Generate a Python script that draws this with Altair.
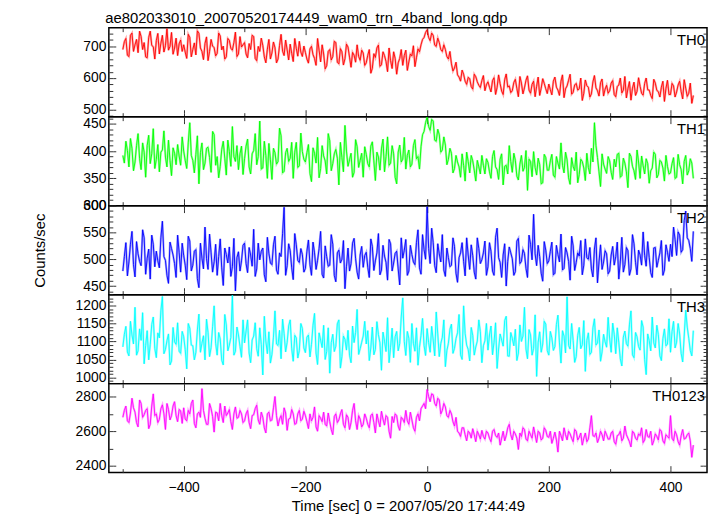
import altair as alt
import pandas as pd

# ---------------- data ----------------
# Each channel is given as two lists: "a" bins start at T_START, "b" bins are
# the bins half a step later; they are merged in time order for plotting.
T_START = -500      # first time bin [sec]
T_STEP = 5          # spacing inside one list [sec]

th0_a = [
    690, 725, 668, 742, 705, 680, 731, 712, 664, 748, 699, 718, 676, 735, 702, 688, 744, 695, 671, 720,
    705, 662, 728, 690, 673, 741, 684, 709, 655, 722, 696, 678, 733, 701, 667, 719, 688, 745, 676, 698,
    712, 664, 690, 731, 655, 684, 703, 648, 722, 679, 696, 660, 738, 671, 689, 707, 652, 694, 716, 668,
    681, 647, 700, 662, 725, 651, 676, 639, 690, 668, 712, 645, 683, 661, 698, 634, 672, 705, 656, 679,
    648, 690, 631, 665, 704, 642, 671, 620, 655, 683, 612, 662, 640, 688, 651, 670, 636, 692, 705, 728,
    752, 718, 735, 700, 712, 684, 690, 660, 645, 632, 610, 590, 612, 580, 598, 565, 604, 577, 592, 560,
    588, 556, 601, 570, 582, 548, 613, 575, 560, 596, 541, 584, 569, 607, 552, 590, 574, 545, 598, 566,
    581, 547, 603, 562, 590, 538, 575, 612, 555, 583, 566, 529, 594, 571, 550, 608, 560, 585, 543, 577,
    560, 592, 541, 578, 553, 605, 566, 530, 587, 558, 574, 546, 600, 562, 535, 584, 557, 571, 526, 593,
    548, 575, 556, 590, 534, 568, 552, 520,
]
th0_b = [
    715, 672, 735, 684, 722, 748, 690, 667, 728, 703, 660, 741, 710, 682, 756, 700, 675, 726, 708, 684,
    682, 738, 667, 711, 749, 695, 658, 730, 684, 701, 670, 742, 689, 660, 725, 694, 712, 668, 731, 705,
    676, 709, 735, 662, 700, 726, 667, 691, 660, 714, 648, 703, 685, 720, 657, 678, 725, 669, 682, 701,
    660, 692, 674, 640, 688, 705, 629, 684, 657, 716, 650, 693, 641, 707, 666, 681, 650, 668, 688, 640,
    672, 615, 677, 695, 637, 683, 652, 695, 630, 662, 648, 690, 671, 624, 676, 702, 664, 683, 722, 744,
    728, 742, 704, 726, 690, 705, 668, 684, 622, 650, 603, 625, 590, 602, 573, 612, 588, 570, 608, 579,
    571, 592, 548, 610, 559, 595, 572, 554, 586, 567, 605, 550, 593, 562, 580, 541, 603, 568, 583, 551,
    563, 590, 571, 545, 610, 566, 593, 549, 578, 562, 600, 552, 576, 540, 588, 569, 543, 597, 565, 552,
    584, 548, 573, 600, 562, 537, 589, 568, 545, 601, 552, 583, 563, 545, 596, 561, 540, 590, 567, 548,
    583, 540, 578, 557, 595, 542, 584, 545,
]
th1_a = [
    392, 418, 371, 405, 380, 432, 366, 398, 410, 377, 441, 385, 362, 402, 389, 420, 355, 396, 412, 374,
    400, 368, 452, 383, 394, 340, 415, 378, 407, 361, 430, 390, 372, 418, 356, 399, 445, 381, 366, 409,
    386, 422, 358, 401, 375, 455, 369, 392, 414, 348, 397, 381, 428, 363, 405, 387, 350, 416, 373, 399,
    380, 412, 344, 396, 425, 368, 391, 358, 419, 377, 403, 338, 388, 447, 372, 396, 361, 408, 383, 352,
    394, 371, 417, 346, 389, 404, 362, 426, 378, 395, 340, 411, 385, 367, 402, 376, 421, 390, 408, 436,
    462, 438, 455, 418, 430, 402, 411, 385, 396, 368, 380, 352, 374, 398, 360, 382, 345, 371, 392, 358,
    379, 350, 401, 366, 385, 338, 374, 410, 361, 383, 347, 392, 370, 328, 381, 399, 356, 375, 342, 388,
    365, 394, 352, 378, 415, 360, 384, 339, 372, 398, 357, 381, 346, 370, 405, 452, 388, 335, 376, 359,
    382, 348, 371, 396, 355, 378, 333, 390, 364, 402, 350, 373, 386, 341, 369, 394, 357, 380, 345, 372,
    360, 388, 352, 375, 340, 392, 364, 378,
]
th1_b = [
    378, 401, 423, 364, 410, 386, 415, 352, 429, 395, 368, 412, 398, 437, 371, 383, 406, 375, 391, 426,
    383, 415, 392, 360, 428, 397, 366, 405, 388, 436, 374, 351, 403, 387, 420, 372, 390, 410, 395, 357,
    409, 371, 395, 432, 390, 367, 418, 350, 384, 405, 376, 442, 360, 397, 381, 416, 398, 370, 433, 385,
    397, 359, 406, 378, 351, 410, 382, 432, 364, 395, 387, 416, 362, 400, 384, 352, 421, 370, 396, 408,
    377, 409, 382, 398, 365, 422, 390, 374, 410, 352, 398, 380, 425, 392, 371, 410, 386, 367, 430, 452,
    445, 458, 420, 440, 398, 426, 375, 405, 360, 392, 371, 395, 345, 381, 392, 365, 383, 358, 374, 386,
    362, 390, 371, 348, 395, 372, 358, 381, 396, 354, 376, 363, 401, 385, 353, 370, 387, 340, 394, 365,
    382, 356, 390, 367, 374, 398, 351, 388, 364, 342, 385, 369, 396, 358, 380, 410, 362, 395, 367, 390,
    361, 385, 394, 352, 387, 362, 396, 372, 348, 380, 391, 358, 377, 364, 398, 351, 383, 369, 392, 358,
    377, 350, 394, 366, 381, 356, 386, 350,
]
th2_a = [
    478, 531, 495, 552, 467, 510, 488, 540, 502, 463, 528, 515, 484, 571, 498, 455, 520, 492, 545, 476,
    507, 462, 534, 489, 518, 447, 502, 560, 481, 512, 495, 470, 538, 451, 509, 523, 486, 441, 514, 497,
    530, 475, 508, 556, 482, 499, 521, 458, 511, 490, 543, 472, 505, 597, 488, 516, 462, 527, 494, 509,
    483, 536, 470, 512, 498, 552, 465, 505, 489, 528, 458, 517, 500, 445, 521, 492, 539, 476, 508, 485,
    513, 466, 524, 497, 548, 480, 506, 461, 529, 493, 515, 452, 502, 537, 478, 509, 490, 555, 472, 518,
    598, 492, 531, 475, 510, 546, 468, 503, 489, 524, 457, 512, 496, 540, 481, 507, 463, 520, 499, 534,
    486, 515, 470, 558, 494, 508, 450, 523, 501, 477, 539, 496, 511, 466, 528, 584, 488, 505, 459, 517,
    497, 532, 474, 509, 547, 483, 512, 461, 525, 494, 506, 471, 538, 500, 482, 519, 456, 527, 495, 510,
    478, 524, 505, 463, 541, 490, 516, 482, 529, 471, 508, 551, 487, 503, 466, 522, 498, 535, 480, 513,
    528, 560, 507, 545, 518, 590, 535, 496,
]
th2_b = [
    505, 469, 528, 490, 533, 496, 555, 472, 519, 545, 486, 497, 540, 505, 470, 532, 508, 466, 513, 530,
    489, 543, 478, 515, 464, 530, 482, 501, 547, 476, 528, 505, 484, 521, 493, 468, 539, 503, 478, 526,
    492, 522, 487, 468, 530, 515, 471, 541, 493, 527, 480, 512, 548, 470, 529, 484, 548, 498, 520, 476,
    515, 490, 532, 481, 520, 472, 525, 487, 546, 470, 512, 493, 535, 486, 478, 530, 501, 463, 524, 507,
    485, 538, 479, 512, 471, 526, 494, 537, 478, 511, 482, 540, 517, 470, 526, 495, 531, 484, 546, 500,
    520, 558, 488, 529, 495, 480, 521, 486, 540, 474, 503, 531, 469, 508, 527, 476, 540, 492, 512, 470,
    531, 478, 541, 503, 466, 529, 496, 512, 470, 534, 492, 518, 483, 545, 499, 510, 526, 474, 533, 492,
    515, 471, 526, 495, 480, 522, 496, 543, 479, 512, 535, 489, 503, 522, 467, 540, 495, 481, 516, 473,
    508, 489, 532, 495, 476, 522, 470, 546, 494, 517, 489, 507, 533, 475, 521, 485, 512, 470, 527, 496,
    505, 537, 551, 513, 572, 540, 520, 552,
]
th3_a = [
    1085, 1142, 1060, 1118, 1195, 1074, 1103, 1038, 1130, 1092, 1168, 1055, 1110, 1225, 1078, 1121, 1046, 1099, 1152, 1067,
    1113, 1024, 1137, 1088, 1070, 1176, 1095, 1049, 1125, 1083, 1199, 1062, 1107, 1035, 1146, 1090, 1228, 1073, 1118, 1056,
    1096, 1160, 1041, 1115, 1080, 1138, 1007, 1101, 1127, 1064, 1185, 1089, 1052, 1122, 1098, 1160, 1045, 1110, 1075, 1136,
    1069, 1118, 1092, 1178, 1036, 1104, 1145, 1072, 1012, 1120, 1087, 1160, 1058, 1106, 1131, 1041, 1097, 1189, 1080, 1115,
    1093, 1047, 1140, 1078, 1119, 1020, 1101, 1166, 1084, 1055, 1128, 1095, 1221, 1061, 1109, 1150, 1073, 1034, 1117, 1089,
    1136, 1070, 1104, 1182, 1058, 1112, 1030, 1095, 1148, 1081, 1124, 1063, 1199, 1090, 1046, 1117, 1085, 1160, 1041, 1102,
    1076, 1143, 1098, 1025, 1121, 1087, 1170, 1059, 1109, 1134, 1068, 1100, 1195, 1052, 1118, 1081, 1003, 1127, 1093, 1148,
    1062, 1110, 1086, 1173, 1040, 1115, 1224, 1079, 1103, 1058, 1139, 1091, 1017, 1124, 1070, 1163, 1096, 1045, 1120, 1084,
    1107, 1151, 1066, 1098, 1032, 1129, 1087, 1185, 1055, 1113, 1076, 1140, 1008, 1102, 1168, 1082, 1119, 1047, 1135, 1093,
    1070, 1156, 1098, 1121, 1043, 1187, 1109, 1060,
]
th3_b = [
    1120, 1071, 1156, 1093, 1062, 1135, 1180, 1089, 1049, 1147, 1081, 1124, 1185, 1066, 1102, 1035, 1139, 1092, 1073, 1128,
    1078, 1150, 1090, 1049, 1132, 1070, 1116, 1162, 1058, 1141, 1095, 1125, 1048, 1175, 1074, 1111, 1062, 1140, 1086, 1160,
    1129, 1068, 1104, 1152, 1059, 1091, 1170, 1066, 1040, 1112, 1093, 1131, 1162, 1071, 1143, 1080, 1117, 1054, 1150, 1082,
    1112, 1057, 1145, 1068, 1124, 1083, 1050, 1138, 1097, 1072, 1149, 1026, 1115, 1076, 1062, 1143, 1125, 1064, 1098, 1156,
    1130, 1082, 1063, 1155, 1096, 1126, 1072, 1041, 1137, 1113, 1074, 1168, 1100, 1128, 1042, 1095, 1138, 1084, 1164, 1061,
    1097, 1142, 1060, 1121, 1094, 1160, 1075, 1134, 1067, 1108, 1175, 1050, 1122, 1078, 1139, 1062, 1101, 1127, 1088, 1150,
    1118, 1063, 1152, 1079, 1104, 1158, 1060, 1125, 1088, 1047, 1146, 1115, 1079, 1133, 1062, 1174, 1098, 1070, 1156, 1075,
    1128, 1075, 1147, 1096, 1130, 1068, 1089, 1150, 1042, 1117, 1080, 1158, 1103, 1064, 1138, 1090, 1132, 1071, 1099, 1167,
    1070, 1120, 1138, 1052, 1112, 1094, 1146, 1063, 1125, 1086, 1158, 1050, 1121, 1074, 1096, 1145, 1060, 1108, 1088, 1163,
    1128, 1082, 1150, 1067, 1115, 1140, 1075, 1130,
]
th0123_a = [
    2680, 2745, 2650, 2790, 2710, 2625, 2760, 2695, 2730, 2640, 2815, 2700, 2668, 2752, 2610, 2725, 2690, 2770, 2655, 2718,
    2735, 2660, 2700, 2780, 2620, 2710, 2845, 2675, 2640, 2730, 2595, 2705, 2760, 2650, 2690, 2725, 2610, 2740, 2680, 2700,
    2660, 2720, 2615, 2695, 2750, 2640, 2680, 2590, 2710, 2665, 2800, 2630, 2690, 2735, 2605, 2675, 2700, 2645, 2720, 2670,
    2690, 2615, 2660, 2740, 2600, 2675, 2710, 2630, 2655, 2580, 2700, 2665, 2725, 2620, 2680, 2650, 2760, 2610, 2670, 2640,
    2675, 2620, 2700, 2590, 2660, 2715, 2635, 2680, 2560, 2650, 2690, 2605, 2670, 2720, 2640, 2665, 2600, 2700, 2730, 2760,
    2840, 2770, 2810, 2745, 2780, 2720, 2740, 2680, 2700, 2630, 2600, 2570, 2620, 2545, 2590, 2615, 2540, 2580, 2605, 2555,
    2590, 2540, 2610, 2565, 2520, 2600, 2575, 2640, 2550, 2585, 2495, 2570, 2610, 2545, 2580, 2625, 2535, 2590, 2560, 2605,
    2565, 2530, 2595, 2480, 2575, 2620, 2550, 2585, 2540, 2600, 2565, 2520, 2590, 2555, 2690, 2570, 2535, 2600, 2545, 2580,
    2555, 2600, 2525, 2580, 2545, 2630, 2560, 2510, 2590, 2550, 2575, 2535, 2610, 2565, 2520, 2585, 2550, 2600, 2530, 2570,
    2690, 2545, 2580, 2520, 2610, 2560, 2590, 2450,
]
th0123_b = [
    2720, 2660, 2705, 2735, 2650, 2780, 2680, 2720, 2615, 2745, 2690, 2650, 2730, 2700, 2760, 2665, 2745, 2690, 2725, 2645,
    2670, 2720, 2760, 2645, 2700, 2680, 2720, 2640, 2760, 2685, 2710, 2660, 2690, 2745, 2705, 2655, 2700, 2675, 2720, 2650,
    2700, 2650, 2690, 2730, 2665, 2710, 2620, 2700, 2660, 2735, 2690, 2670, 2640, 2705, 2670, 2725, 2640, 2700, 2660, 2715,
    2655, 2700, 2680, 2625, 2690, 2655, 2640, 2705, 2610, 2685, 2650, 2700, 2640, 2695, 2610, 2720, 2660, 2690, 2625, 2700,
    2640, 2690, 2650, 2700, 2625, 2670, 2690, 2600, 2685, 2700, 2630, 2680, 2650, 2660, 2710, 2620, 2680, 2660, 2745, 2730,
    2800, 2815, 2760, 2790, 2700, 2760, 2690, 2720, 2655, 2680, 2590, 2620, 2580, 2600, 2560, 2580, 2600, 2555, 2570, 2600,
    2560, 2600, 2575, 2590, 2560, 2545, 2620, 2580, 2600, 2560, 2590, 2620, 2555, 2600, 2560, 2580, 2600, 2550, 2620, 2570,
    2600, 2560, 2550, 2600, 2545, 2580, 2600, 2560, 2610, 2550, 2590, 2560, 2540, 2620, 2575, 2590, 2560, 2580, 2600, 2555,
    2590, 2540, 2575, 2600, 2560, 2580, 2540, 2600, 2560, 2585, 2620, 2550, 2570, 2600, 2545, 2570, 2610, 2545, 2580, 2560,
    2560, 2600, 2540, 2575, 2555, 2580, 2545, 2520,
]

names = ["TH0", "TH1", "TH2", "TH3", "TH0123"]
colors = ["#ff0000", "#00ff00", "#0000ff", "#00ffff", "#ff00ff"]
series_a = [th0_a, th1_a, th2_a, th3_a, th0123_a]
series_b = [th0_b, th1_b, th2_b, th3_b, th0123_b]
y_domains = [[478, 759], [300, 463], [434, 600], [983, 1230], [2362, 2874]]
y_tick_step = [20, 10, 10, 10, 100]
y_label_step = [100, 50, 50, 50, 200]
x_domain = [-523, 460]
x_ticks = [-500, -400, -300, -200, -100, 0, 100, 200, 300, 400]

title_text = "ae802033010_20070520174449_wam0_trn_4band_long.qdp"
x_title = "Time [sec] 0 = 2007/05/20 17:44:49"
y_title = "Counts/sec"

# ---------------- chart ----------------
FONT = "Liberation Sans"
W, H = 605, 90
TK = 7
TICK_COLOR = "#333333"


def dash_cond(step):
    return {"condition": {"test": f"datum.value % {step} === 0", "value": [TK, 0]},
            "value": [4, 3]}


def panel(idx):
    name = names[idx]
    color = colors[idx]
    lo, hi = y_domains[idx]
    st = y_tick_step[idx]
    lab = y_label_step[idx]
    yticks = [v for v in range((lo // st) * st, hi + 1, st) if lo <= v <= hi]
    a, b = series_a[idx], series_b[idx]
    rows = [(T_START + T_STEP * k, v) for k, v in enumerate(a)]
    rows += [(T_START + T_STEP * k + T_STEP / 2, v) for k, v in enumerate(b)]
    df = pd.DataFrame(rows, columns=["t", "v"]).sort_values("t")
    xs = alt.Scale(domain=x_domain, nice=False, zero=False)
    ys = alt.Scale(domain=[lo, hi], nice=False, zero=False)
    last = idx == len(names) - 1

    common = dict(tickSize=TK, offset=-TK, tickColor=TICK_COLOR, tickWidth=1,
                  domain=False, grid=False, tickDashOffset=4,
                  labelFont=FONT, labelFontSize=14, labelColor="black",
                  titleFont=FONT, titleFontSize=15, titleFontWeight="normal",
                  titleColor="black", labelOverlap=False, labelBound=False)

    bottom = alt.Axis(orient="bottom", values=x_ticks, labels=last,
                      labelExpr="datum.value % 200 === 0 ? datum.label : ''",
                      tickDash=dash_cond(200), labelPadding=8,
                      title=x_title if last else None, titlePadding=4, **common)
    top = alt.Axis(orient="top", values=x_ticks, labels=False, tickDash=dash_cond(200),
                   title=None, **common)
    left_kwargs = dict(orient="left", values=yticks, format="d",
                       labelExpr=f"datum.value % {lab} === 0 ? datum.label : ''",
                       tickDash=dash_cond(lab), labelPadding=3)
    if idx == 2:
        left = alt.Axis(title=y_title, titleX=-69, titleY=H / 2, **left_kwargs, **common)
    else:
        left = alt.Axis(title=None, **left_kwargs, **common)
    right = alt.Axis(orient="right", values=yticks, labels=False, tickDash=dash_cond(lab),
                     title=None, **common)

    env = alt.Chart(df).mark_line(color=color, strokeWidth=2.2, opacity=0.35, clip=True).encode(
        x=alt.X("t:Q", scale=xs, axis=top),
        y=alt.Y("v:Q", scale=ys, axis=right),
    )
    line = alt.Chart(df).mark_line(color=color, strokeWidth=0.9, clip=True).encode(
        x=alt.X("t:Q", scale=xs, axis=bottom),
        y=alt.Y("v:Q", scale=ys, axis=left),
    )
    label = alt.Chart(pd.DataFrame({"name": [name]})).mark_text(
        align="right", baseline="middle", font=FONT, fontSize=15, color="black"
    ).encode(x=alt.value(W - 2), y=alt.value(13), text="name:N")

    return alt.layer(env, line, label).resolve_axis(x="independent", y="independent").properties(
        width=W, height=H)


panels = [panel(i) for i in range(len(names))]

chart = alt.vconcat(*panels, spacing=0, bounds="flush").properties(
    title=alt.TitleParams(title_text, anchor="start", font=FONT, fontSize=15,
                          fontWeight="normal", color="black", offset=0, dx=74),
    padding={"left": 24, "top": 0, "right": 0, "bottom": 2},
).configure_view(stroke="black", strokeWidth=1.5).configure_axis(labelFont=FONT)

chart.save("out.html", embed_options={"renderer": "svg", "actions": False})
